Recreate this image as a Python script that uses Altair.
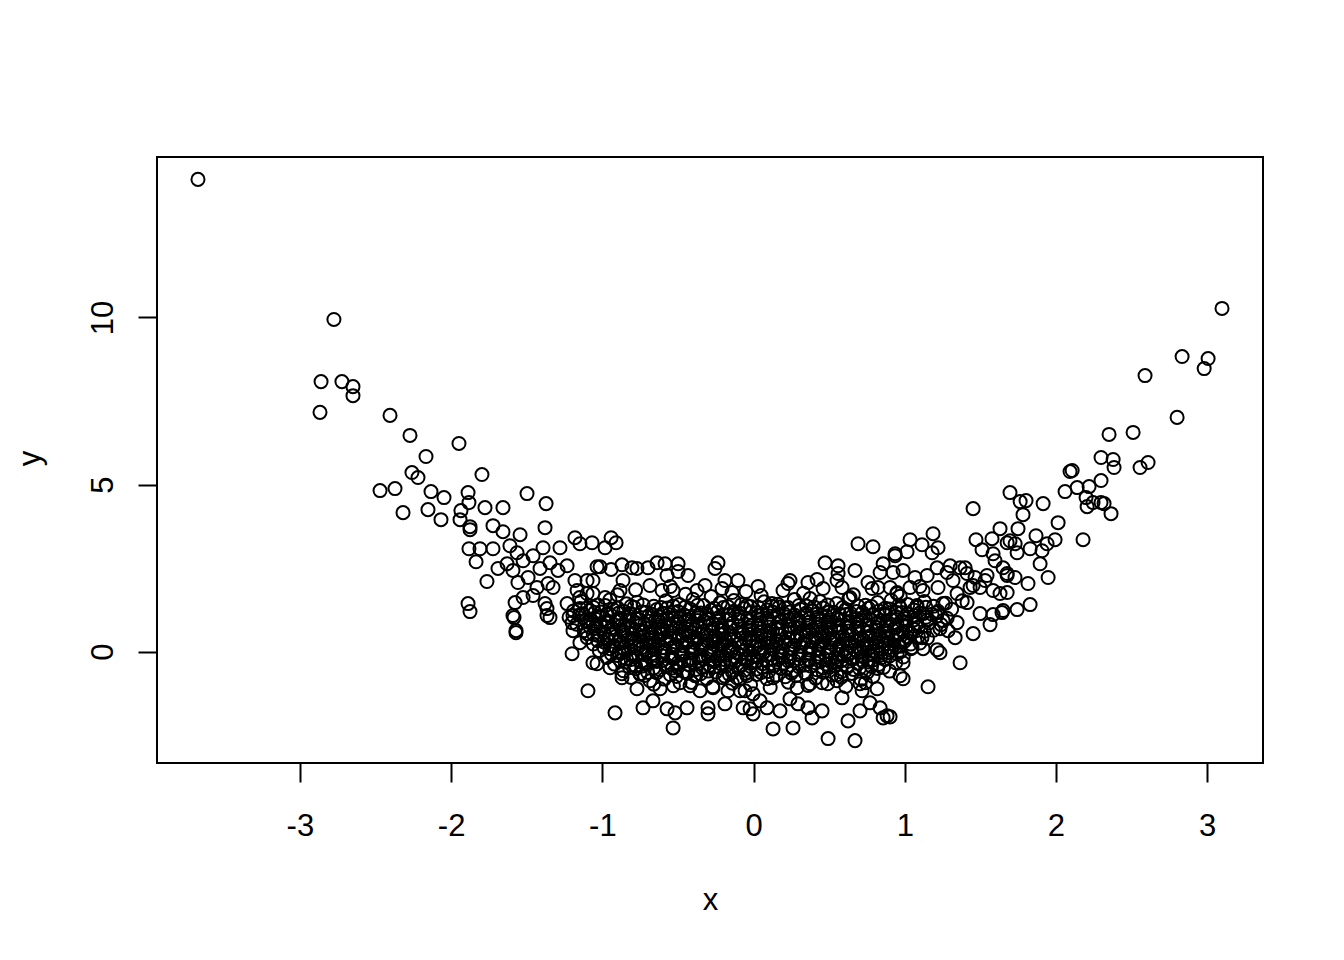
import altair as alt
import pandas as pd

# ---- values (data units) ----
left_arm = [(-3.674, 14.13), (-2.775, 9.94), (-2.860, 8.08), (-2.722, 8.08), (-2.649, 7.93), (-2.649, 7.66),
            (-2.867, 7.16), (-2.404, 7.07), (-2.272, 6.47), (-1.948, 6.23), (-2.166, 5.84), (-2.259, 5.36),
            (-2.219, 5.21), (-1.796, 5.30), (-2.470, 4.82), (-2.371, 4.88), (-2.133, 4.79), (-2.047, 4.61),
            (-1.888, 4.76), (-1.882, 4.46), (-1.776, 4.31), (-2.318, 4.16), (-2.153, 4.25), (-2.067, 3.95),
            (-1.935, 4.22), (-1.941, 3.95), (-1.875, 3.74), (-1.875, 3.65), (-1.882, 3.08), (-1.809, 3.08),
            (-1.835, 2.69), (-1.763, 2.10), (-1.888, 1.44), (-1.875, 1.20)]

left_mid = [(-1.498, 4.73), (-1.372, 4.43), (-1.657, 4.31), (-1.723, 3.77), (-1.657, 3.59), (-1.379, 3.71),
            (-1.544, 3.50), (-1.723, 3.08), (-1.611, 3.17), (-1.564, 2.96), (-1.392, 3.11), (-1.280, 3.11),
            (-1.181, 3.41), (-1.148, 3.23), (-1.068, 3.26), (-1.035, 2.54), (-1.690, 2.49), (-1.630, 2.63),
            (-1.591, 2.43), (-1.524, 2.72), (-1.458, 2.87), (-1.412, 2.49), (-1.346, 2.66), (-1.293, 2.43),
            (-1.233, 2.57), (-1.558, 2.07), (-1.491, 2.22), (-1.432, 1.92), (-1.359, 2.04), (-1.326, 1.92),
            (-1.181, 2.13), (-1.101, 2.13), (-1.062, 2.13), (-1.167, 1.83), (-1.101, 1.74), (-1.577, 1.47),
            (-1.524, 1.62), (-1.458, 1.68), (-1.379, 1.44), (-1.366, 1.29), (-1.591, 1.08), (-1.233, 1.44),
            (-1.148, 1.29), (-1.081, 1.23), (-1.194, 1.08), (-1.584, 1.02), (-1.571, 0.63), (-1.571, 0.57),
            (-1.366, 1.08), (-1.346, 1.02), (-1.200, 0.87), (-1.194, 0.63), (-1.200, -0.06), (-1.062, -0.33),
            (-1.095, -1.17), (-1.148, 0.27), (-1.101, 0.54), (-1.062, 0.84)]

upper_mid = [(-0.942, 3.41), (-0.909, 3.26), (-0.982, 3.11), (-1.015, 2.54), (-0.942, 2.46), (-0.870, 2.60),
             (-0.804, 2.51), (-0.771, 2.49), (-0.698, 2.51), (-0.638, 2.66), (-0.585, 2.63), (-0.499, 2.63),
             (-0.433, 2.28), (-0.572, 2.28), (-0.499, 2.40), (-0.235, 2.66), (-0.255, 2.49), (-0.189, 2.13),
             (-0.103, 2.13), (-0.863, 2.13), (-0.685, 1.98), (-0.605, 1.83), (-0.532, 1.83), (-0.374, 1.83),
             (-0.321, 1.98), (-0.208, 1.89), (-0.142, 1.77), (-0.883, 1.83), (-0.982, 1.62), (-1.062, 1.74),
             (0.691, 3.23), (0.790, 3.14), (0.936, 2.87), (0.473, 2.66), (0.559, 2.57), (0.671, 2.43),
             (0.559, 2.34), (0.857, 2.63), (0.923, 2.37), (0.837, 2.37), (0.241, 2.13), (0.030, 1.95),
             (0.195, 1.83), (0.228, 2.04), (0.360, 2.07), (0.420, 2.16), (0.460, 1.89), (0.552, 2.13),
             (0.585, 1.92), (0.757, 2.07), (0.784, 1.89), (0.823, 1.92), (0.903, 1.92), (0.949, 1.77),
             (0.374, 1.59), (-0.043, 1.38), (0.122, 1.44), (0.228, 1.32), (0.638, 1.62),
             (-0.45, 1.72), (-0.28, 1.65), (-0.05, 1.80), (0.05, 1.68), (0.33, 1.75), (0.66, 1.70),
             (0.97, 1.66), (1.10, 1.95), (-0.78, 1.85), (-0.55, 1.95), (-1.15, 1.62), (-0.90, 1.70)]

right_mid = [(1.677, 3.26), (1.187, 3.53), (1.035, 3.35), (1.114, 3.20), (1.220, 3.11), (0.936, 2.93),
             (1.015, 2.99), (1.181, 2.96), (1.730, 3.23), (1.677, 2.34), (1.300, 2.57), (1.366, 2.51),
             (1.214, 2.51), (1.280, 2.37), (1.412, 2.34), (1.465, 2.22), (1.531, 2.13), (0.989, 2.43),
             (1.068, 2.22), (1.148, 2.28), (1.035, 1.92), (1.121, 1.83), (1.220, 1.92), (1.319, 2.13),
             (1.432, 1.92), (1.584, 1.83), (1.346, 1.74), (1.253, 1.44), (1.650, 1.23), (1.214, 1.17),
             (0.949, 1.74), (0.969, 1.32), (1.081, 1.38), (1.121, 1.14),
             (1.564, 0.81), (1.452, 0.54), (1.333, 0.42), (1.233, -0.03), (1.214, 0.06), (1.366, -0.33),
             (1.154, -1.05), (0.903, -1.95), (1.121, 0.09), (1.114, 0.42), (0.989, -0.33), (0.989, -0.81),
             (0.969, -0.72), (1.048, 0.12), (1.253, 0.93), (1.346, 0.87), (1.286, 0.63), (1.233, 0.69)]

right_arm = [(3.098, 10.27), (2.834, 8.83), (3.006, 8.77), (2.980, 8.47), (2.589, 8.26), (2.801, 7.01),
             (2.351, 6.50), (2.510, 6.56), (2.298, 5.81), (2.378, 5.75), (2.384, 5.51), (2.556, 5.51),
             (2.609, 5.66), (2.093, 5.39), (2.107, 5.42), (2.298, 5.12), (2.060, 4.79), (2.140, 4.91),
             (2.219, 4.94), (2.199, 4.61), (2.245, 4.46), (2.298, 4.46), (2.206, 4.34), (2.318, 4.43),
             (2.364, 4.13), (1.696, 4.76), (1.763, 4.49), (1.802, 4.52), (1.915, 4.43), (1.452, 4.28),
             (1.782, 4.10), (2.014, 3.86), (1.630, 3.68), (1.749, 3.68), (1.868, 3.47), (1.994, 3.35),
             (2.179, 3.35), (1.941, 3.23), (1.471, 3.35), (1.577, 3.38), (1.696, 3.32), (1.829, 3.08),
             (1.908, 3.02), (1.511, 3.05), (1.584, 2.93), (1.743, 2.96), (1.597, 2.72), (1.895, 2.63),
             (1.650, 2.51), (1.948, 2.22), (1.815, 2.04), (1.729, 2.22), (1.677, 2.28), (1.544, 2.28),
             (1.399, 2.51), (1.452, 1.98), (1.498, 1.92), (1.630, 1.74), (1.677, 1.77), (1.829, 1.41),
             (1.743, 1.26), (1.643, 1.17), (1.498, 1.14), (1.412, 1.47), (1.584, 1.11)]

bottom = [(-0.916, -1.83), (-0.771, -1.11), (-0.731, -1.68), (-0.665, -1.47), (-0.618, -1.11), (-0.572, -1.71),
          (-0.519, -1.83), (-0.532, -2.28), (-0.440, -1.68), (-0.301, -1.86), (-0.301, -1.68), (-0.189, -1.56),
          (-0.069, -1.68), (-0.169, -1.17), (-0.089, -1.17), (-1.035, -0.36), (-0.949, -0.48), (-0.870, -0.66),
          (-0.870, -0.78), (-0.751, -0.66), (-0.718, -0.36), (-0.685, -0.87), (-0.519, -0.57), (-0.486, -0.93),
          (-0.420, -1.02), (-0.354, -1.17), (-0.387, -0.72), (-0.268, -1.08), (-0.202, -0.78), (-0.089, -0.81),
          (-0.056, -1.17), (-0.023, -1.71), (-0.003, -1.86), (0.129, -2.31), (0.261, -2.28), (0.493, -2.60),
          (0.671, -2.66), (0.625, -2.07), (0.704, -1.77), (0.857, -1.98), (0.883, -1.92), (0.387, -1.98),
          (0.453, -1.77), (0.360, -1.68), (0.294, -1.56), (0.241, -1.41), (0.175, -1.77), (0.089, -1.68),
          (0.043, -1.47), (-0.003, -1.26), (0.585, -1.38), (0.453, -0.93), (0.552, -0.87), (0.718, -1.17),
          (0.770, -1.53), (0.837, -1.68), (0.817, -1.11), (0.704, -0.96), (0.374, -0.96), (0.288, -1.08),
          (-0.043, -0.72), (0.129, -0.78)]

core_a = [(-1.14, 1.51), (-1.03, 1.40), (-0.95, 1.55), (-0.84, 1.43), (-0.77, 1.48), (-0.66, 1.36), (-0.58, 1.52),
          (-0.49, 1.41), (-0.40, 1.57), (-0.33, 1.38), (-0.22, 1.46), (-0.13, 1.53), (-0.02, 1.35), (0.07, 1.49),
          (0.16, 1.42), (0.27, 1.56), (0.35, 1.37), (0.44, 1.50), (0.55, 1.44), (0.63, 1.58), (0.74, 1.39),
          (0.82, 1.47), (0.91, 1.54), (1.02, 1.41), (1.13, 1.50), (1.27, 1.45), (1.38, 1.52)]
core_b = [(-1.19, 1.22), (-1.10, 1.30), (-1.01, 1.19), (-0.93, 1.27), (-0.86, 1.21), (-0.79, 1.33), (-0.71, 1.18),
          (-0.64, 1.26), (-0.57, 1.31), (-0.50, 1.20), (-0.42, 1.28), (-0.35, 1.16), (-0.28, 1.24), (-0.20, 1.32),
          (-0.13, 1.21), (-0.06, 1.29), (0.02, 1.17), (0.09, 1.25), (0.17, 1.34), (0.24, 1.19), (0.31, 1.27),
          (0.39, 1.23), (0.46, 1.31), (0.53, 1.18), (0.61, 1.26), (0.68, 1.20), (0.76, 1.30), (0.83, 1.22),
          (0.90, 1.28), (0.98, 1.17), (1.06, 1.25), (1.14, 1.33), (1.22, 1.21), (1.31, 1.27)]
core_c = [(-1.22, 1.03), (-1.15, 1.10), (-1.08, 0.98), (-1.02, 1.07), (-0.95, 1.12), (-0.88, 1.00), (-0.82, 1.06),
          (-0.76, 0.97), (-0.69, 1.09), (-0.62, 1.04), (-0.56, 1.11), (-0.49, 0.99), (-0.43, 1.05), (-0.36, 1.08),
          (-0.30, 0.96), (-0.23, 1.02), (-0.17, 1.10), (-0.10, 1.05), (-0.04, 0.99), (0.03, 1.08), (0.09, 1.01),
          (0.16, 1.12), (0.22, 1.04), (0.29, 0.97), (0.35, 1.09), (0.42, 1.03), (0.48, 1.07), (0.55, 1.00),
          (0.61, 1.11), (0.68, 0.98), (0.74, 1.06), (0.81, 1.02), (0.87, 1.09), (0.94, 1.05), (1.00, 0.99),
          (1.07, 1.08), (1.14, 1.03), (1.21, 1.06), (1.28, 1.00)]
core_d = [(-1.17, 0.82), (-1.10, 0.89), (-1.04, 0.78), (-0.97, 0.86), (-0.91, 0.91), (-0.85, 0.80), (-0.78, 0.87),
          (-0.72, 0.83), (-0.65, 0.92), (-0.59, 0.79), (-0.53, 0.85), (-0.46, 0.88), (-0.40, 0.81), (-0.33, 0.90),
          (-0.27, 0.84), (-0.21, 0.77), (-0.14, 0.86), (-0.08, 0.93), (-0.01, 0.80), (0.05, 0.87), (0.11, 0.83),
          (0.18, 0.90), (0.24, 0.78), (0.30, 0.85), (0.37, 0.89), (0.43, 0.82), (0.50, 0.88), (0.56, 0.79),
          (0.62, 0.86), (0.69, 0.91), (0.75, 0.81), (0.82, 0.87), (0.88, 0.84), (0.95, 0.80), (1.01, 0.89),
          (1.08, 0.83), (1.16, 0.86), (1.24, 0.81)]
core_e = [(-1.12, 0.63), (-1.05, 0.70), (-0.99, 0.58), (-0.93, 0.67), (-0.87, 0.61), (-0.81, 0.72), (-0.75, 0.64),
          (-0.69, 0.59), (-0.63, 0.68), (-0.57, 0.62), (-0.51, 0.71), (-0.45, 0.57), (-0.39, 0.66), (-0.33, 0.60),
          (-0.27, 0.69), (-0.21, 0.63), (-0.15, 0.73), (-0.09, 0.58), (-0.03, 0.65), (0.03, 0.70), (0.09, 0.61),
          (0.15, 0.67), (0.21, 0.59), (0.27, 0.72), (0.33, 0.64), (0.39, 0.68), (0.45, 0.60), (0.51, 0.66),
          (0.57, 0.71), (0.63, 0.62), (0.69, 0.69), (0.75, 0.57), (0.81, 0.65), (0.87, 0.63), (0.93, 0.70),
          (0.99, 0.59), (1.06, 0.67), (1.13, 0.61), (1.19, 0.64)]
core_f = [(-1.10, 0.42), (-1.03, 0.49), (-0.97, 0.38), (-0.91, 0.46), (-0.85, 0.51), (-0.79, 0.40), (-0.73, 0.47),
          (-0.67, 0.43), (-0.61, 0.52), (-0.55, 0.39), (-0.49, 0.45), (-0.43, 0.48), (-0.37, 0.41), (-0.31, 0.50),
          (-0.25, 0.44), (-0.19, 0.37), (-0.13, 0.46), (-0.07, 0.53), (-0.01, 0.40), (0.05, 0.47), (0.11, 0.43),
          (0.17, 0.50), (0.23, 0.38), (0.29, 0.45), (0.35, 0.49), (0.41, 0.42), (0.47, 0.48), (0.53, 0.39),
          (0.59, 0.46), (0.65, 0.51), (0.71, 0.41), (0.77, 0.47), (0.83, 0.44), (0.89, 0.40), (0.95, 0.49),
          (1.02, 0.43), (1.09, 0.46), (1.15, 0.41)]
core_g = [(-1.06, 0.23), (-0.99, 0.29), (-0.93, 0.18), (-0.87, 0.26), (-0.81, 0.31), (-0.75, 0.20), (-0.69, 0.27),
          (-0.63, 0.22), (-0.57, 0.32), (-0.51, 0.19), (-0.45, 0.25), (-0.39, 0.28), (-0.33, 0.21), (-0.27, 0.30),
          (-0.21, 0.24), (-0.15, 0.17), (-0.09, 0.26), (-0.03, 0.33), (0.03, 0.20), (0.09, 0.27), (0.15, 0.23),
          (0.21, 0.30), (0.27, 0.18), (0.33, 0.25), (0.39, 0.29), (0.45, 0.22), (0.51, 0.28), (0.57, 0.19),
          (0.63, 0.26), (0.69, 0.31), (0.75, 0.21), (0.81, 0.27), (0.87, 0.24), (0.93, 0.20), (0.99, 0.29),
          (1.04, 0.23), (1.10, 0.26)]
core_h = [(-1.02, 0.03), (-0.95, 0.09), (-0.89, -0.02), (-0.83, 0.06), (-0.77, 0.11), (-0.71, 0.00), (-0.65, 0.07),
          (-0.59, 0.02), (-0.53, 0.12), (-0.47, -0.01), (-0.41, 0.05), (-0.35, 0.08), (-0.29, 0.01), (-0.23, 0.10),
          (-0.17, 0.04), (-0.11, -0.03), (-0.05, 0.06), (0.01, 0.13), (0.07, 0.00), (0.13, 0.07), (0.19, 0.03),
          (0.25, 0.10), (0.31, -0.02), (0.37, 0.05), (0.43, 0.09), (0.49, 0.02), (0.55, 0.08), (0.61, -0.01),
          (0.67, 0.06), (0.73, 0.11), (0.79, 0.01), (0.85, 0.07), (0.91, 0.04), (0.97, 0.00), (1.04, 0.09)]
core_i = [(-0.97, -0.17), (-0.90, -0.11), (-0.84, -0.22), (-0.78, -0.14), (-0.72, -0.09), (-0.66, -0.20),
          (-0.60, -0.13), (-0.54, -0.18), (-0.48, -0.08), (-0.42, -0.21), (-0.36, -0.15), (-0.30, -0.12),
          (-0.24, -0.19), (-0.18, -0.10), (-0.12, -0.16), (-0.06, -0.23), (0.00, -0.14), (0.06, -0.07),
          (0.12, -0.20), (0.18, -0.13), (0.24, -0.17), (0.30, -0.10), (0.36, -0.22), (0.42, -0.15),
          (0.48, -0.11), (0.54, -0.18), (0.60, -0.12), (0.66, -0.21), (0.72, -0.14), (0.78, -0.09),
          (0.84, -0.19), (0.90, -0.13), (0.99, -0.16)]
core_j = [(-0.92, -0.37), (-0.85, -0.31), (-0.78, -0.42), (-0.71, -0.34), (-0.64, -0.29), (-0.57, -0.40),
          (-0.50, -0.33), (-0.43, -0.38), (-0.36, -0.28), (-0.29, -0.41), (-0.22, -0.35), (-0.15, -0.32),
          (-0.08, -0.39), (-0.01, -0.30), (0.06, -0.36), (0.13, -0.43), (0.20, -0.34), (0.27, -0.27),
          (0.34, -0.40), (0.41, -0.33), (0.48, -0.37), (0.55, -0.30), (0.62, -0.42), (0.69, -0.35),
          (0.76, -0.31), (0.83, -0.38), (0.94, -0.33)]
core_k = [(-0.86, -0.57), (-0.78, -0.51), (-0.70, -0.62), (-0.62, -0.54), (-0.54, -0.49), (-0.46, -0.60),
          (-0.38, -0.53), (-0.30, -0.58), (-0.22, -0.48), (-0.14, -0.61), (-0.06, -0.55), (0.02, -0.52),
          (0.10, -0.59), (0.18, -0.50), (0.26, -0.56), (0.34, -0.63), (0.42, -0.54), (0.50, -0.47),
          (0.58, -0.60), (0.66, -0.53), (0.74, -0.57), (0.82, -0.50), (0.90, -0.58)]
core_l = [(-0.81, -0.77), (-0.72, -0.71), (-0.59, -0.82), (-0.51, -0.74), (-0.38, -0.69), (-0.31, -0.80),
          (-0.19, -0.73), (-0.11, -0.78), (0.02, -0.68), (0.09, -0.81), (0.21, -0.75), (0.28, -0.72),
          (0.41, -0.79), (0.52, -0.70), (0.58, -0.76), (0.71, -0.83), (0.79, -0.74)]
core_m = [(-0.66, -0.97), (-0.53, -1.02), (-0.41, -0.92), (-0.27, -1.05), (-0.14, -0.94), (-0.02, -0.99),
          (0.11, -1.07), (0.23, -0.91), (0.36, -1.01), (0.49, -0.96), (0.61, -1.04), (0.74, -0.93)]

# rows in between the ones above (dense central cloud)
core_n_x = [-1.06, -0.98, -0.90, -0.81, -0.73, -0.61, -0.53, -0.45, -0.37, -0.26, -0.17, -0.08, 0.03, 0.12, 0.21,
            0.30, 0.40, 0.49, 0.59, 0.69, 0.78, 0.87, 0.96, 1.08, 1.19]
core_n_y = [1.33, 1.38, 1.31, 1.36, 1.40, 1.32, 1.37, 1.34, 1.39, 1.30, 1.35, 1.41, 1.33, 1.36, 1.31, 1.38, 1.34,
            1.40, 1.32, 1.37, 1.35, 1.30, 1.39, 1.33, 1.36]
core_o_x = [-1.13, -1.05, -0.97, -0.89, -0.82, -0.74, -0.67, -0.60, -0.53, -0.46, -0.38, -0.31, -0.24, -0.16,
            -0.09, -0.02, 0.06, 0.13, 0.20, 0.27, 0.35, 0.42, 0.50, 0.57, 0.64, 0.72, 0.79, 0.87, 0.94, 1.02,
            1.10, 1.18]
core_o_y = [1.13, 1.17, 1.11, 1.16, 1.14, 1.19, 1.12, 1.15, 1.18, 1.10, 1.16, 1.13, 1.19, 1.11, 1.15, 1.17, 1.12,
            1.18, 1.14, 1.10, 1.16, 1.13, 1.19, 1.12, 1.15, 1.17, 1.11, 1.14, 1.18, 1.13, 1.16, 1.12]
core_p_x = [-1.11, -1.04, -0.97, -0.90, -0.84, -0.77, -0.70, -0.63, -0.57, -0.50, -0.43, -0.37, -0.30, -0.23,
            -0.17, -0.10, -0.03, 0.04, 0.10, 0.17, 0.24, 0.30, 0.37, 0.44, 0.51, 0.57, 0.64, 0.71, 0.77, 0.84,
            0.91, 0.98, 1.06, 1.15]
core_p_y = [0.93, 0.97, 0.91, 0.96, 0.94, 0.99, 0.92, 0.95, 0.98, 0.90, 0.96, 0.93, 0.99, 0.91, 0.95, 0.97, 0.92,
            0.98, 0.94, 0.90, 0.96, 0.93, 0.99, 0.92, 0.95, 0.97, 0.91, 0.94, 0.98, 0.93, 0.96, 0.92, 0.95, 0.94]
core_q_x = [-1.08, -1.01, -0.94, -0.88, -0.81, -0.75, -0.68, -0.62, -0.55, -0.49, -0.42, -0.36, -0.29, -0.23,
            -0.16, -0.10, -0.03, 0.03, 0.10, 0.16, 0.23, 0.29, 0.36, 0.42, 0.49, 0.55, 0.62, 0.68, 0.75, 0.81,
            0.88, 0.94, 1.01, 1.09]
core_q_y = [0.73, 0.77, 0.71, 0.76, 0.74, 0.79, 0.72, 0.75, 0.78, 0.70, 0.76, 0.73, 0.79, 0.71, 0.75, 0.77, 0.72,
            0.78, 0.74, 0.70, 0.76, 0.73, 0.79, 0.72, 0.75, 0.77, 0.71, 0.74, 0.78, 0.73, 0.76, 0.72, 0.75, 0.74]
core_r_x = [-1.06, -0.99, -0.93, -0.86, -0.80, -0.73, -0.67, -0.60, -0.54, -0.47, -0.41, -0.34, -0.28, -0.21,
            -0.15, -0.08, -0.02, 0.05, 0.11, 0.18, 0.24, 0.31, 0.37, 0.44, 0.50, 0.57, 0.63, 0.70, 0.76, 0.83,
            0.89, 0.96, 1.04]
core_r_y = [0.53, 0.57, 0.51, 0.56, 0.54, 0.59, 0.52, 0.55, 0.58, 0.50, 0.56, 0.53, 0.59, 0.51, 0.55, 0.57, 0.52,
            0.58, 0.54, 0.50, 0.56, 0.53, 0.59, 0.52, 0.55, 0.57, 0.51, 0.54, 0.58, 0.53, 0.56, 0.52, 0.55]
core_s_x = [-1.03, -0.96, -0.89, -0.83, -0.76, -0.70, -0.63, -0.57, -0.50, -0.44, -0.37, -0.31, -0.24, -0.18,
            -0.11, -0.05, 0.02, 0.08, 0.15, 0.21, 0.28, 0.34, 0.41, 0.47, 0.54, 0.60, 0.67, 0.73, 0.80, 0.86,
            0.93, 1.00]
core_s_y = [0.33, 0.37, 0.31, 0.36, 0.34, 0.39, 0.32, 0.35, 0.38, 0.30, 0.36, 0.33, 0.39, 0.31, 0.35, 0.37, 0.32,
            0.38, 0.34, 0.30, 0.36, 0.33, 0.39, 0.32, 0.35, 0.37, 0.31, 0.34, 0.38, 0.33, 0.36, 0.32]
core_t_x = [-0.99, -0.92, -0.86, -0.79, -0.73, -0.66, -0.60, -0.53, -0.47, -0.40, -0.34, -0.27, -0.21, -0.14,
            -0.08, -0.01, 0.05, 0.12, 0.18, 0.25, 0.31, 0.38, 0.44, 0.51, 0.57, 0.64, 0.70, 0.77, 0.83, 0.90, 0.97]
core_t_y = [0.13, 0.17, 0.11, 0.16, 0.14, 0.19, 0.12, 0.15, 0.18, 0.10, 0.16, 0.13, 0.19, 0.11, 0.15, 0.17, 0.12,
            0.18, 0.14, 0.10, 0.16, 0.13, 0.19, 0.12, 0.15, 0.17, 0.11, 0.14, 0.18, 0.13, 0.16]
core_u_x = [-0.94, -0.87, -0.80, -0.74, -0.67, -0.61, -0.54, -0.48, -0.41, -0.35, -0.28, -0.22, -0.15, -0.09,
            -0.02, 0.04, 0.11, 0.17, 0.24, 0.30, 0.37, 0.43, 0.50, 0.56, 0.63, 0.69, 0.76, 0.82, 0.89, 0.95]
core_u_y = [-0.07, -0.03, -0.09, -0.04, -0.06, -0.01, -0.08, -0.05, -0.02, -0.10, -0.04, -0.07, -0.01, -0.09,
            -0.05, -0.03, -0.08, -0.02, -0.06, -0.10, -0.04, -0.07, -0.01, -0.08, -0.05, -0.03, -0.09, -0.06,
            -0.02, -0.07]
core_v_x = [-0.88, -0.81, -0.74, -0.67, -0.60, -0.53, -0.46, -0.40, -0.33, -0.26, -0.19, -0.12, -0.05, 0.02, 0.09,
            0.16, 0.23, 0.30, 0.37, 0.44, 0.51, 0.58, 0.65, 0.72, 0.79, 0.87]
core_v_y = [-0.27, -0.23, -0.29, -0.24, -0.26, -0.21, -0.28, -0.25, -0.22, -0.30, -0.24, -0.27, -0.21, -0.29,
            -0.25, -0.23, -0.28, -0.22, -0.26, -0.30, -0.24, -0.27, -0.21, -0.28, -0.25, -0.23]
core_w_x = [-0.82, -0.74, -0.66, -0.58, -0.50, -0.42, -0.34, -0.26, -0.18, -0.10, -0.02, 0.06, 0.14, 0.22, 0.30,
            0.38, 0.46, 0.54, 0.62, 0.70, 0.78, 0.86]
core_w_y = [-0.47, -0.43, -0.49, -0.44, -0.46, -0.41, -0.48, -0.45, -0.42, -0.50, -0.44, -0.47, -0.41, -0.49,
            -0.45, -0.43, -0.48, -0.42, -0.46, -0.50, -0.44, -0.47]
core_x_x = [-0.75, -0.64, -0.55, -0.44, -0.35, -0.25, -0.16, -0.05, 0.05, 0.15, 0.25, 0.35, 0.46, 0.55, 0.65, 0.75]
core_x_y = [-0.67, -0.63, -0.69, -0.64, -0.66, -0.61, -0.68, -0.65, -0.62, -0.70, -0.64, -0.67, -0.61, -0.69,
            -0.65, -0.63]

groups = [left_arm, left_mid, upper_mid, right_mid, right_arm, bottom,
          core_a, core_b, core_c, core_d, core_e, core_f, core_g, core_h, core_i, core_j, core_k, core_l, core_m]
pts = [p for g in groups for p in g]
for xs, ys in [(core_n_x, core_n_y), (core_o_x, core_o_y), (core_p_x, core_p_y), (core_q_x, core_q_y),
               (core_r_x, core_r_y), (core_s_x, core_s_y), (core_t_x, core_t_y), (core_u_x, core_u_y),
               (core_v_x, core_v_y), (core_w_x, core_w_y), (core_x_x, core_x_y)]:
    pts.extend(zip(xs, ys))
df = pd.DataFrame(pts, columns=["x", "y"])

FONT = "Liberation Sans"
FS = 31

chart = alt.Chart(df).mark_point(
    shape="circle", filled=False, color="black", size=170, strokeWidth=2, opacity=1
).encode(
    x=alt.X("x:Q",
            scale=alt.Scale(domain=[-3.945, 3.369], nice=False, zero=False),
            axis=alt.Axis(values=[-3, -2, -1, 0, 1, 2, 3], title="x", grid=False, domain=False,
                          labelExpr="'' + datum.value",
                          tickSize=19, tickWidth=2, tickColor="black",
                          labelFont=FONT, labelFontSize=FS, labelColor="black",
                          labelBaseline="alphabetic", labelPadding=53, labelFlush=False,
                          titleFont=FONT, titleFontSize=FS, titleFontWeight="normal", titleColor="black",
                          titleBaseline="alphabetic", titleAlign="center", titleX=553, titleY=146)),
    y=alt.Y("y:Q",
            scale=alt.Scale(domain=[-3.33, 14.80], nice=False, zero=False),
            axis=alt.Axis(values=[0, 5, 10], title="y", grid=False, domain=False,
                          labelExpr="'' + datum.value",
                          tickSize=19, tickWidth=2, tickColor="black",
                          labelFont=FONT, labelFontSize=FS, labelColor="black",
                          labelAngle=270, labelAlign="center", labelBaseline="alphabetic",
                          labelPadding=26, labelFlush=False,
                          titleFont=FONT, titleFontSize=FS, titleFontWeight="normal", titleColor="black",
                          titleAngle=270, titleBaseline="alphabetic", titleAlign="center",
                          titleX=-118, titleY=301)),
).properties(
    width=1106, height=606,
    autosize=alt.AutoSizeParams(type="none"),
    padding={"left": 149, "top": 149, "right": 73, "bottom": 189},
    background="white",
).configure_view(stroke="black", strokeWidth=2)

chart.save("out.html", embed_options={"renderer": "svg", "actions": False})
